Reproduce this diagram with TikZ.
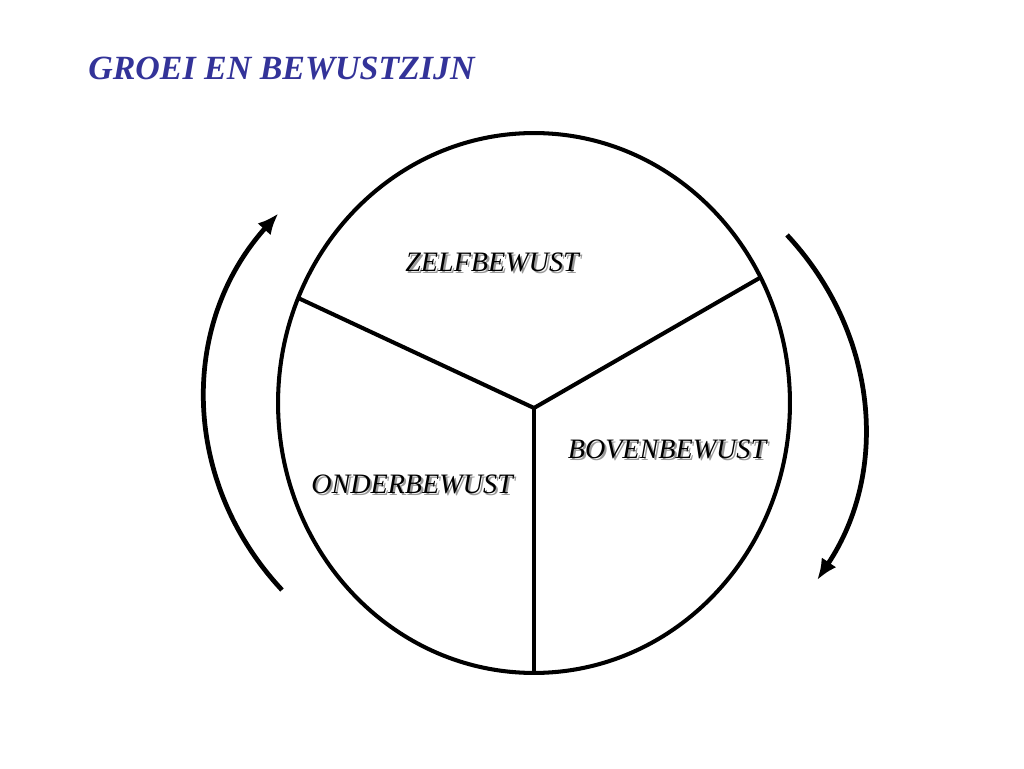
\documentclass[tikz,border=0pt]{standalone}
\usepackage{fontspec}
\setmainfont{Liberation Serif}
\usetikzlibrary{shapes.geometric,arrows.meta}
\definecolor{title_blue}{RGB}{51,51,153}
\newcommand{\shadowtext}[1]{\makebox[0pt][l]{\hspace{1.2pt}\raisebox{-1.2pt}{\textcolor{black!40}{#1}}}#1}
\tikzset{
    wheel_line/.style = {
        draw=black,
        line width=2.3pt
    },
    turn_arrow/.style = {
        draw=black,
        line width=2.7pt,
        -{Latex[length=12pt,width=10pt]}
    },
    part_label/.style = {
        font=\fontsize{16}{19}\selectfont\itshape,
        inner sep=0pt
    },
    title_text/.style = {
        font=\fontsize{19.3}{23}\selectfont\bfseries\itshape,
        text=title_blue,
        inner sep=0pt
    },
}

\begin{document}
\begin{tikzpicture}[x=0.02cm, y=0.02cm]
    \useasboundingbox (0,0) rectangle (1024,768);

    \node[title_text, anchor=base west] (title) at (88,688) {GROEI EN BEWUSTZIJN};

    % the wheel with its three parts
    \node[wheel_line, ellipse, minimum width=10.24cm, minimum height=10.8cm, inner sep=0pt, outer sep=0pt] (wheel) at (534,365) {};
    \coordinate (hub) at (534,360);
    \draw[wheel_line] (hub) -- (wheel.156);
    \draw[wheel_line] (hub) -- (wheel.29);
    \draw[wheel_line] (hub) -- (wheel.270);

    \node[part_label] (zelf) at (492,505) {\shadowtext{ZELFBEWUST}};
    \node[part_label] (boven) at (667,318) {\shadowtext{BOVENBEWUST}};
    \node[part_label] (onder) at (412,283) {\shadowtext{ONDERBEWUST}};

    % turning arrows
    \coordinate (left_bottom) at (282,178);
    \draw[turn_arrow] (left_bottom) arc[start angle=220, end angle=141, x radius=329, y radius=296];

    \coordinate (right_top) at (787,533);
    \draw[turn_arrow] (right_top) arc[start angle=40, end angle=-31, x radius=331, y radius=298];
\end{tikzpicture}
\end{document}
